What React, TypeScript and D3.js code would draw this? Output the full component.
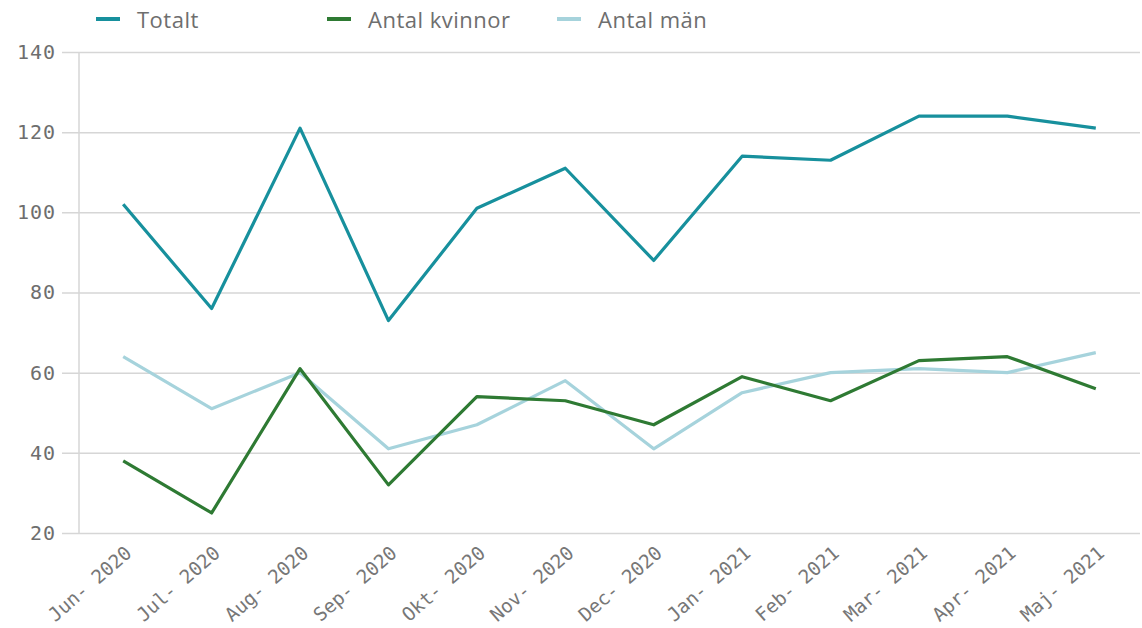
import * as React from 'react';
import * as d3 from 'd3';

const MONTHS = [
    'Jun- 2020', 'Jul- 2020', 'Aug- 2020', 'Sep- 2020', 'Okt- 2020', 'Nov- 2020',
    'Dec- 2020', 'Jan- 2021', 'Feb- 2021', 'Mar- 2021', 'Apr- 2021', 'Maj- 2021'
];
const TOTALT = [102, 76, 121, 73, 101, 111, 88, 114, 113, 124, 124, 121];
const KVINNOR = [38, 25, 61, 32, 54, 53, 47, 59, 53, 63, 64, 56];
const MAN = [64, 51, 60, 41, 47, 58, 41, 55, 60, 61, 60, 65];
const Y_TICKS = [20, 40, 60, 80, 100, 120, 140];

const SERIES = [
    { name: 'Totalt', values: TOTALT, color: '#17909d' },
    { name: 'Antal kvinnor', values: KVINNOR, color: '#2e7a33' },
    { name: 'Antal män', values: MAN, color: '#a6d3dc' }
];

const WIDTH = 1142;
const HEIGHT = 628;

export default function App() {
    const svgRef = React.useRef<SVGSVGElement>(null);

    React.useEffect(() => {
        const svg = d3.select(svgRef.current);
        svg.selectAll('*').remove();

        const LEFT = 79;
        const RIGHT = 1140;
        const TOP = 52;
        const BOTTOM = 533;

        const x = d3.scalePoint<string>().domain(MONTHS).range([LEFT, RIGHT]).padding(0.5);
        const y = d3.scaleLinear().domain([20, 140]).range([BOTTOM, TOP]);

        /** grid + y axis */
        const yAxis = d3
            .axisLeft(y)
            .tickValues(Y_TICKS)
            .tickSize(RIGHT - LEFT + 17)
            .tickPadding(7)
            .tickFormat(d3.format('d'));
        const yg = svg
            .append('g')
            .attr('transform', `translate(${RIGHT},0)`)
            .call(yAxis);
        yg.select('.domain').remove();
        yg.selectAll('line').attr('stroke', '#d6d6d6').attr('stroke-width', 1.5);
        yg.selectAll('text')
            .attr('font-family', 'DejaVu Sans Mono')
            .attr('font-size', 20)
            .attr('letter-spacing', 1)
            .attr('fill', '#6e6e6e')
            .attr('x', -(RIGHT - LEFT + 17) - 6);

        svg.append('line')
            .attr('x1', LEFT)
            .attr('x2', LEFT)
            .attr('y1', TOP)
            .attr('y2', BOTTOM)
            .attr('stroke', '#d6d6d6')
            .attr('stroke-width', 1.5);

        /** x labels */
        svg.append('g')
            .selectAll('text')
            .data(MONTHS)
            .enter()
            .append('text')
            .attr('transform', d => `translate(${x(d)! + 1},${BOTTOM + 12}) rotate(-41)`)
            .attr('text-anchor', 'end')
            .attr('dy', '0.7em')
            .attr('font-family', 'DejaVu Sans Mono')
            .attr('font-size', 19)
            .attr('fill', '#777')
            .text(d => d);

        /** lines */
        const line = d3
            .line<number>()
            .x((_, i) => x(MONTHS[i])!)
            .y(d => y(d));
        [...SERIES].reverse().forEach(s => {
            svg.append('path')
                .datum(s.values)
                .attr('fill', 'none')
                .attr('stroke', s.color)
                .attr('stroke-width', 3.2)
                .attr('stroke-linejoin', 'round')
                .attr('d', line);
        });

        /** legend */
        const LEGEND_X = [96, 327, 557];
        const lg = svg.append('g');
        SERIES.forEach((s, i) => {
            lg.append('line')
                .attr('x1', LEGEND_X[i])
                .attr('x2', LEGEND_X[i] + 24)
                .attr('y1', 19)
                .attr('y2', 19)
                .attr('stroke', s.color)
                .attr('stroke-width', 4);
            lg.append('text')
                .attr('x', LEGEND_X[i] + 41)
                .attr('y', 28)
                .attr('font-family', 'Open Sans')
                .attr('font-size', 22)
                .attr('letter-spacing', 0.5)
                .attr('fill', '#6e6e6e')
                .text(s.name);
        });
    });

    return (
        <svg
            ref={svgRef}
            width={WIDTH}
            height={HEIGHT}
            style={{ position: 'absolute', left: 0, top: 0, background: '#fff' }}
        />
    );
}
